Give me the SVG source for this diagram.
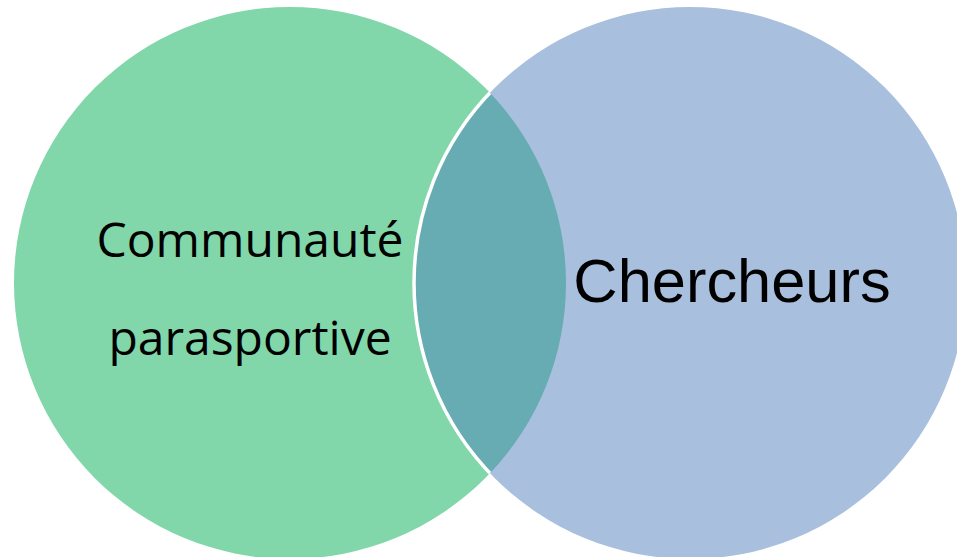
<svg xmlns="http://www.w3.org/2000/svg" width="957" height="557" viewBox="0 0 957 557">
<style>
.lbl{font-family:"Open Sans","Noto Sans",sans-serif;font-size:48px;fill:#000;text-anchor:middle}
.lbl2{font-family:"Liberation Sans",Arial,sans-serif;font-size:61.4px;fill:#000;text-anchor:middle}
</style>
<defs>
<clipPath id="leftClip"><circle cx="290" cy="283" r="276"/></clipPath>
</defs>
<rect width="957" height="557" fill="#fff"/>
<g id="communaute">
<circle cx="290" cy="283" r="276" fill="#81D7A9"/>
</g>
<g id="chercheurs">
<circle cx="690" cy="283" r="276" fill="#A8C0DE"/>
</g>
<g id="intersection">
<path d="M490,92.8 A276,276 0 0 1 490,473.2 A276,276 0 0 1 490,92.8 Z" fill="#66ACB2"/>
<circle cx="690" cy="283" r="276" fill="none" stroke="#fff" stroke-width="3.5" clip-path="url(#leftClip)"/>
</g>
<g id="labels">
<text class="lbl" x="250" y="257">Communauté</text>
<text class="lbl" x="250" y="355">parasportive</text>
<text class="lbl2" x="732" y="302">Chercheurs</text>
</g>
</svg>
